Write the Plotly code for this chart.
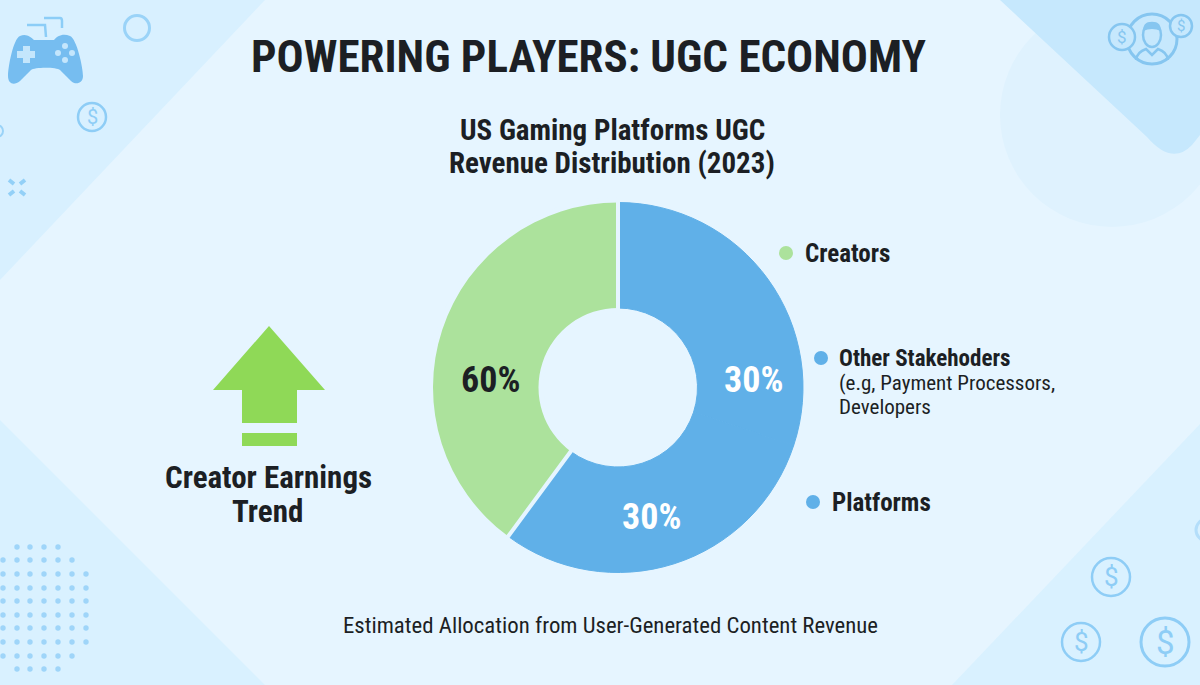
import plotly.graph_objects as go

# ---------- data ----------
slice_names = ["Other Stakehoders", "Platforms", "Creators"]
slice_values = [30, 30, 39.8]          # drawn share of the ring
slice_labels = ["30%", "30%", "60%"]   # printed labels
slice_colors = ["#60B0E8", "#60B0E8", "#ACE29C"]

BG = "#E6F5FF"
INK = "#1C1F24"
COND = "Roboto Condensed, Liberation Sans Narrow, Roboto, sans-serif"

CX, CY, R, INNER = 618, 387.5, 185, 79.5
W, H = 1200, 685


def dom(cx, cy, r):
    return dict(x=[(cx - r) / W, (cx + r) / W], y=[1 - (cy + r) / H, 1 - (cy - r) / H])


shapes = []


def path(d, fill=None, line=None, width=0):
    shapes.append(dict(type="path", path=d, xref="x", yref="y", layer="below",
                       fillcolor=fill or "rgba(0,0,0,0)",
                       line=dict(color=line or "rgba(0,0,0,0)", width=width)))


def circle(cx, cy, r, fill=None, line=None, width=0):
    shapes.append(dict(type="circle", xref="x", yref="y", layer="below",
                       x0=cx - r, x1=cx + r, y0=cy - r, y1=cy + r,
                       fillcolor=fill or "rgba(0,0,0,0)",
                       line=dict(color=line or "rgba(0,0,0,0)", width=width)))


# background panels
PANEL = "#C6E8FD"
path("M0,0 L265,0 L0,280 Z", "#D8F0FF")
path("M0,420 L265,685 L0,685 Z", "#D9F1FF")
path("M1200,424 L1200,685 L952,685 Z", "#D9F1FF")
circle(1112, 115, 112, "#DFF2FE")
path("M1000,0 L1147,137 Q1172,166 1192,145 L1200,135 L1200,0 Z", PANEL)

# game controller
PAD = "#76BDF0"
WIRE = "#8CCDF7"
path("M20,36 C26,33 31,37 34,40 L54,40 C57,36 63,33 70,36 C77,39 83,68 83,76 "
     "C83,84 75,85 71,81 L60,70 C57,67 34,67 31,70 L20,81 C14,86 8,84 8,76 C8,68 13,39 20,36 Z", PAD)
path("M17,51 H23 V46 H30 V51 H35 V58 H30 V63 H23 V58 H17 Z", "#C4E6FC")
for bx, by in [(58, 53), (72, 53), (65, 46), (65, 60)]:
    circle(bx, by, 3, "#C4E6FC")
path("M27,25 L45,25 L46,37", None, WIRE, 2.5)
path("M44,18 L60,18 Q62,18 62,21 L62,28", None, WIRE, 2.5)

# rings and small marks
RING = "#8ECDF6"
circle(137, 28, 12.5, None, "#9AD3F8", 3)
circle(-3, 131, 6, None, "#9AD3F8", 2)
circle(1207, 530, 11, None, "#B4DEFA", 3)
for d in ["M9,180 L14,184", "M25,180 L20,184", "M9,195 L14,191", "M25,195 L20,191"]:
    path(d, None, "#93D0F7", 4)

# creator icon (coins are drawn over it)
ICON = "#86C6F0"
circle(1152, 39, 25, None, ICON, 3)
shapes.append(dict(type="circle", xref="x", yref="y", layer="below", x0=1143, x1=1161, y0=23, y1=47,
                   fillcolor="rgba(0,0,0,0)", line=dict(color=ICON, width=2.5)))
path("M1143,31 Q1143,21 1152,22 Q1161,21 1161,31 Q1152,27 1143,31 Z", ICON)
path("M1136,60 Q1137,52 1146,49 L1152,55 L1158,49 Q1167,52 1168,60", None, ICON, 2.5)

# dollar coins
coins = [(92, 117, 14, 2.5, 20, RING, None), (1111, 577, 19, 2.5, 26, RING, None),
         (1081, 642, 19, 2.5, 26, RING, None), (1165, 642, 24, 3, 33, RING, None),
         (1122, 37, 13, 2.5, 17, ICON, PANEL), (1181, 26, 11, 2.5, 15, ICON, PANEL)]
for cx, cy, r, sw, _, col, fill in coins:
    circle(cx, cy, r, fill, col, sw)

# dot grid
DOT = "#9FD5F9"
cols = [3, 17, 30, 44, 58, 72, 86]
rows = [547, 560, 574, 588, 601, 615, 628, 642, 656, 669]
spans = [(1, 4), (0, 5), (0, 6), (0, 6), (0, 6), (0, 6), (0, 6), (0, 6), (0, 5), (1, 4)]
for y, (a, b) in zip(rows, spans):
    for x in cols[a:b + 1]:
        circle(x, y, 2.7, DOT)

# arrow
ARROW = "#8FD957"
path("M269,326 L325,390 L297,390 L297,423 L242,423 L242,390 L213,390 Z", ARROW)
path("M242,433 H297 V446 H242 Z", ARROW)

ann = []


def text(x, y, s, size, color=INK, bold=False, anchor="center", family=COND):
    ann.append(dict(x=x, y=y, xref="x", yref="y", text=f"<b>{s}</b>" if bold else s,
                    showarrow=False, xanchor=anchor, yanchor="middle",
                    font=dict(size=size, color=color, family=family)))


text(588, 56, "POWERING PLAYERS: UGC ECONOMY", 45, bold=True)
text(612, 130, "US Gaming Platforms UGC", 29, bold=True)
text(612, 163, "Revenue Distribution (2023)", 29, bold=True)
text(268, 477, "Creator Earnings", 31, bold=True)
text(267, 511, "Trend", 31, bold=True)
text(610, 625, "Estimated Allocation from User-Generated Content Revenue", 22.8)

text(803, 253, slice_names[2], 25, bold=True, anchor="left")
text(837, 358, slice_names[0], 23, bold=True, anchor="left")
text(837, 383, "(e.g, Payment Processors,", 21, anchor="left")
text(837, 407, "Developers", 21, anchor="left")
text(830, 502, slice_names[1], 25, bold=True, anchor="left")

text(753, 380, slice_labels[0], 36, "#FFFFFF", True)
text(651, 517, slice_labels[1], 36, "#FFFFFF", True)
text(490, 380, slice_labels[2], 36, INK, True)

# coin dollar signs
for cx, cy, r, sw, fs, col, _ in coins:
    text(cx, cy, "$", fs, col, family="Roboto, sans-serif")

fig = go.Figure()
fig.add_trace(go.Scatter(x=[786, 821, 813], y=[253, 358, 502], mode="markers", hoverinfo="skip",
                         marker=dict(size=14, color=[slice_colors[2], slice_colors[0], slice_colors[1]]),
                         showlegend=False))
fig.add_trace(go.Pie(labels=slice_names, values=slice_values, sort=False, direction="clockwise",
                     rotation=0, hole=INNER / R, domain=dom(CX, CY, R), textinfo="none",
                     marker=dict(colors=slice_colors, line=dict(color=slice_colors, width=[1, 1, 0])),
                     showlegend=False))
# slice separators: a slightly larger unfilled ring so only the radial edges show
fig.add_trace(go.Pie(labels=slice_names, values=slice_values, sort=False, direction="clockwise",
                     rotation=0, hole=(INNER - 3) / (R + 3), domain=dom(CX, CY, R + 3), textinfo="none",
                     marker=dict(colors=["rgba(0,0,0,0)"] * 3, line=dict(color=BG, width=[0, 0, 4])),
                     showlegend=False, hoverinfo="skip"))

fig.update_layout(width=W, height=H, margin=dict(l=0, r=0, t=0, b=0), autosize=False,
                  paper_bgcolor=BG, plot_bgcolor=BG, shapes=shapes, annotations=ann, showlegend=False,
                  xaxis=dict(range=[0, W], visible=False, fixedrange=True),
                  yaxis=dict(range=[H, 0], visible=False, fixedrange=True))
fig.write_html("out.html", config={"displayModeBar": False},
               post_script=f"document.body.style.margin='0';document.body.style.background='{BG}';"
                           "document.body.style.overflow='hidden';")
